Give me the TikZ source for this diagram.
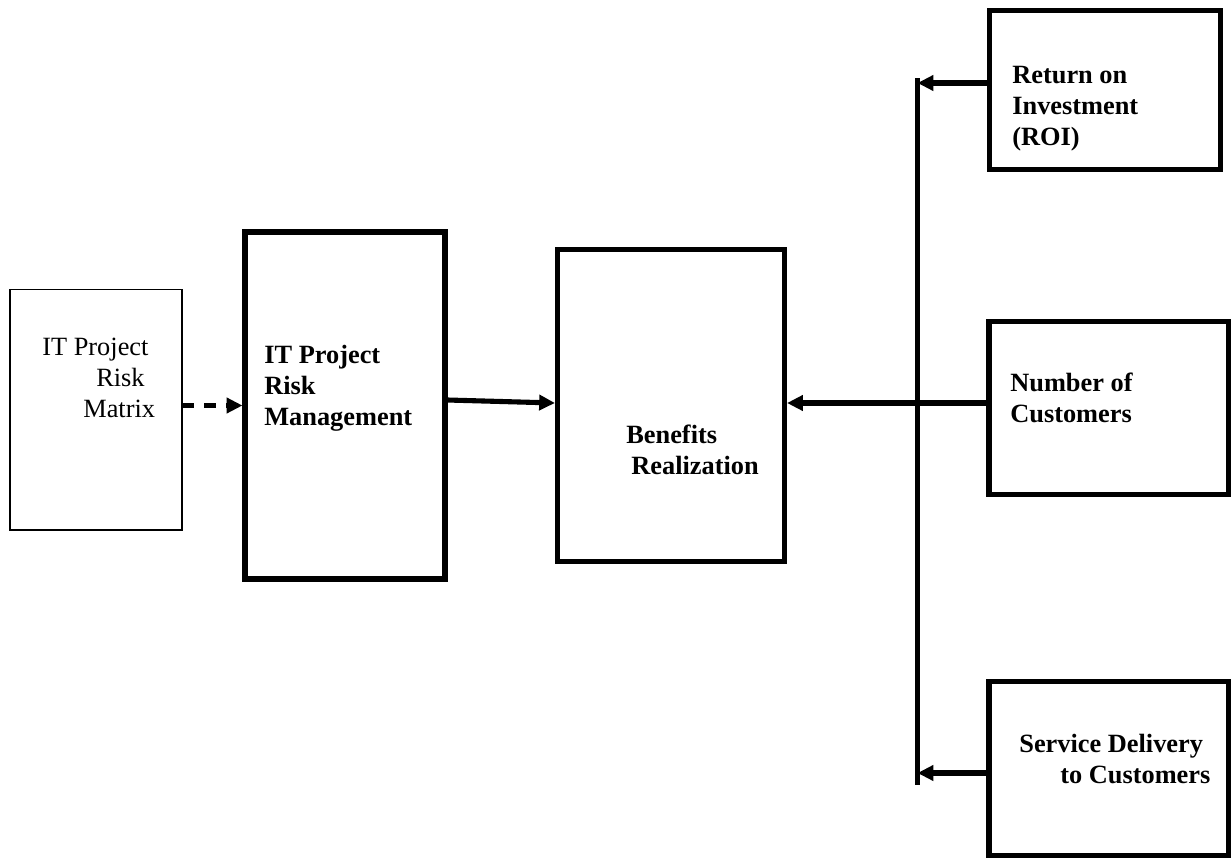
\documentclass[tikz,border=0pt]{standalone}
\usepackage{fontspec}
\setmainfont{Liberation Serif}
\usetikzlibrary{arrows.meta}

\begin{document}
\begin{tikzpicture}[x=0.02cm, y=-0.02cm, inner sep=0pt, >={Triangle[length=9pt, width=8.5pt]}]
	\tikzstyle{every node}=[align=left, font=\fontsize{15}{17.6}\selectfont]
	\tikzstyle{box}=[draw, rectangle, line width=2.9pt]
	\tikzstyle{boxtext}=[anchor=west, font=\fontsize{15}{17.6}\selectfont\bfseries]
	\tikzstyle{link}=[line width=2.9pt]
	\useasboundingbox (0,0) rectangle (1231,859);

		\node[draw, rectangle, line width=0.6pt, minimum width=3.44cm, minimum height=4.82cm] (riskmatrix) at (96,409.5) {};
		\node[box, minimum width=4cm, minimum height=6.94cm] (riskmgmt) at (345,405.5) {};
		\node[box, minimum width=4.54cm, minimum height=6.24cm] (benefits) at (671,405.5) {};
		\node[box, minimum width=4.62cm, minimum height=3.18cm] (roi) at (1105,90) {};
		\node[box, minimum width=4.8cm, minimum height=3.46cm] (customers) at (1109,408) {};
		\node[box, minimum width=4.8cm, minimum height=3.48cm] (service) at (1109,768.5) {};

		\node[anchor=west] (matrixtext) at (42,378) {IT Project\\ \hspace*{1.08cm}Risk\\ \hspace*{0.82cm}Matrix};
		\node[boxtext] (mgmttext) at (264,388) {IT Project\\Risk\\Management};
		\node[boxtext] (benefitstext) at (626,449.5) {Benefits\\ \hspace*{0.1cm}Realization};
		\node[boxtext] (roitext) at (1012,109) {Return on\\Investment\\(ROI)};
		\node[boxtext] (customerstext) at (1010,397.5) {Number of\\Customers};
		\node[boxtext] (servicetext) at (1019,759) {Service Delivery\\ \hspace*{0.82cm}to Customers};

		\coordinate (trunktop) at (917.5,78);
		\coordinate (trunkbot) at (917.5,785);
		\coordinate (hub) at (917.5,403);
		\coordinate (roiin) at (917.5,83);
		\coordinate (servicein) at (917.5,773);

		\draw[->, line width=2.3pt, dash pattern=on 6.8pt off 5.7pt] (riskmatrix.east |- riskmgmt.west) to (riskmgmt.west);
		\draw[->, link] ([yshift=0.11cm]riskmgmt.east) to ([yshift=0.05cm]benefits.west);
		\draw[line width=3.3pt] (trunktop) to (trunkbot);
		\draw[->, link] (customers.west |- hub) to (benefits.east |- hub);
		\draw[->, link] (roi.west |- roiin) to (roiin);
		\draw[->, link] (service.west |- servicein) to (servicein);
	\end{tikzpicture}
\end{document}
